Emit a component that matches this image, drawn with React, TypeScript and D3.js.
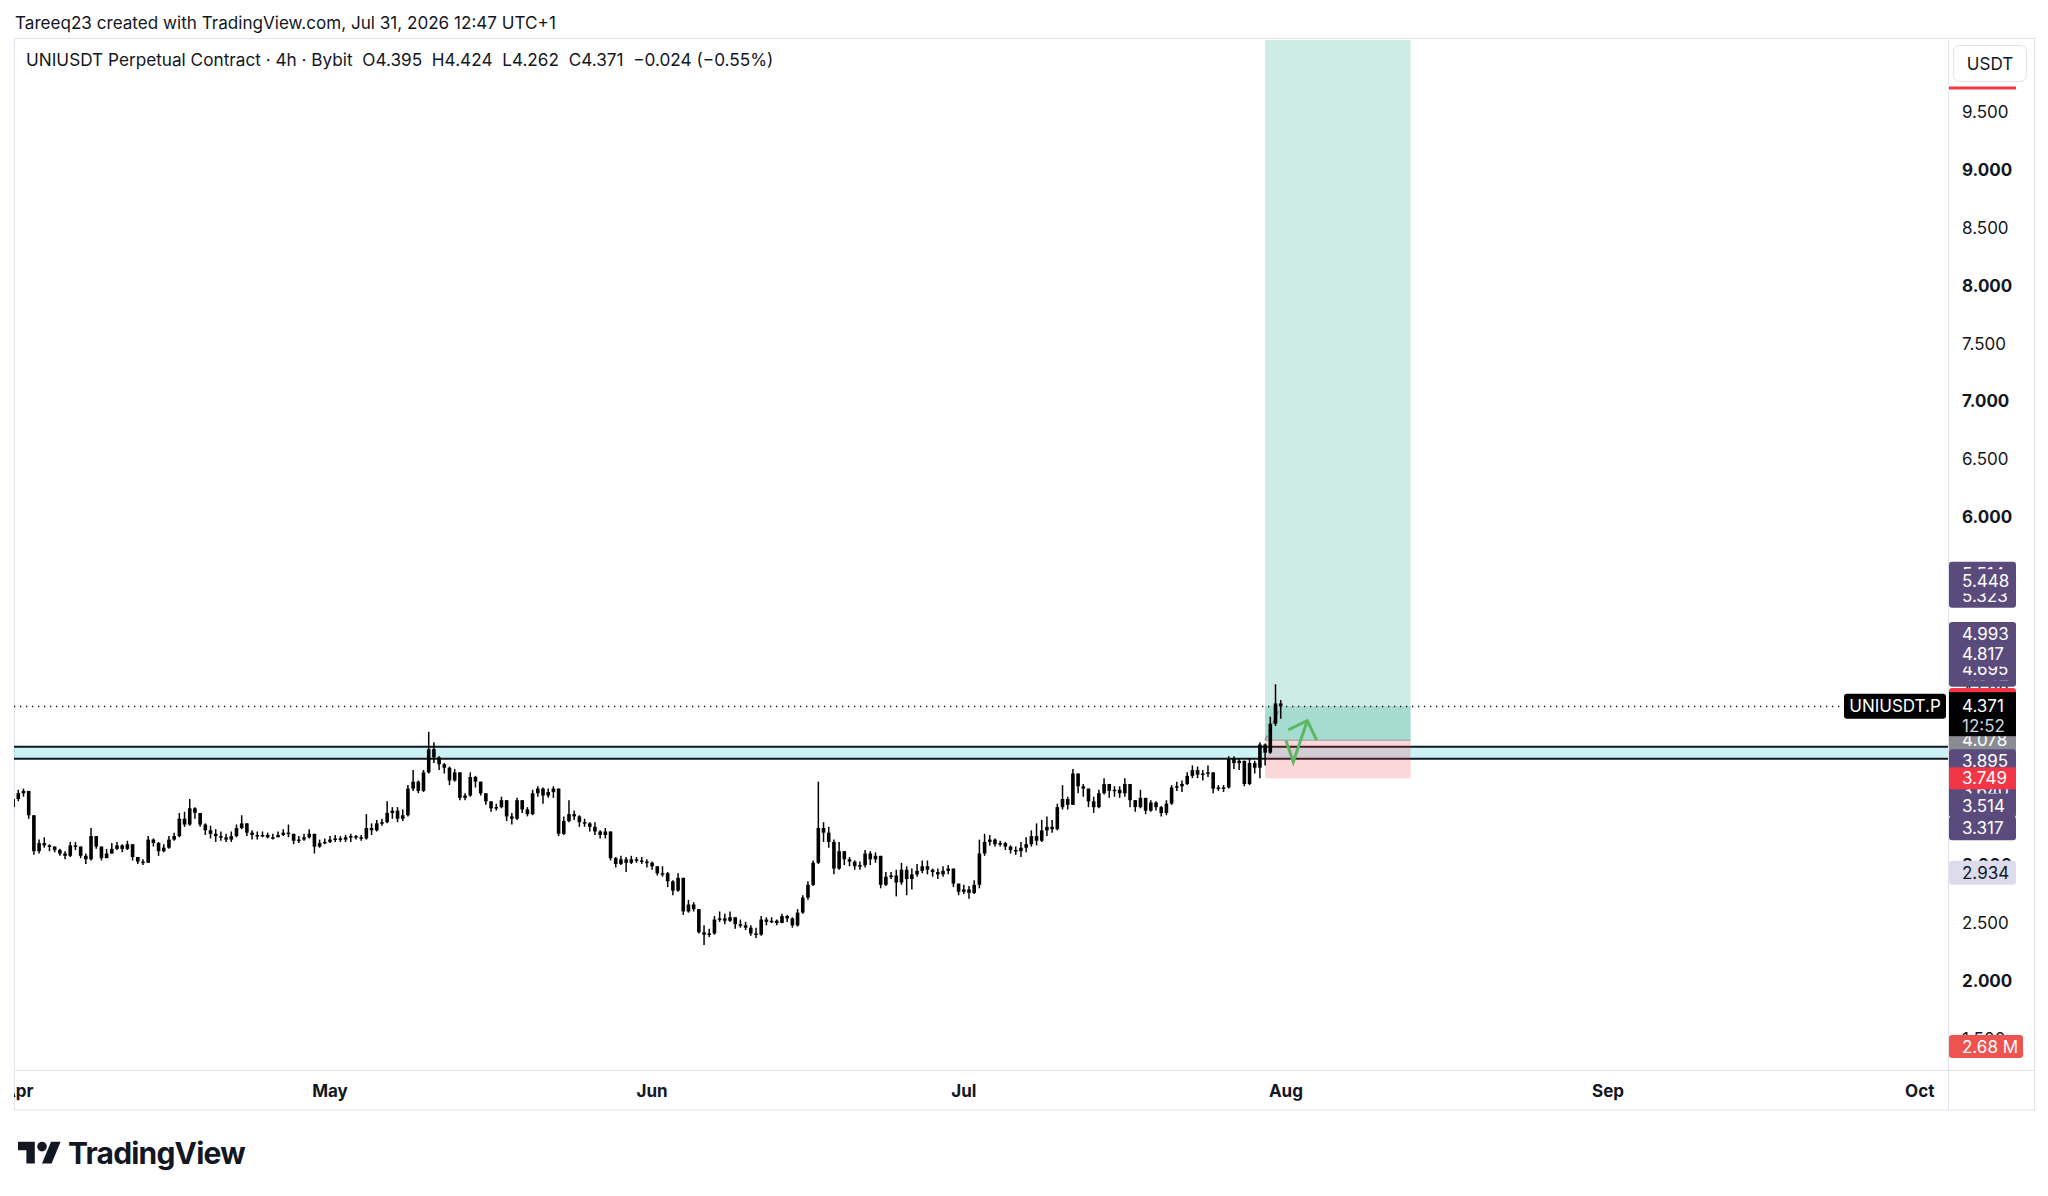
import React from 'react';
import * as d3 from 'd3';

// 12h candles, starting 2026-03-31 12:00 UTC
const candleStart = '2026-03-31T12:00:00Z';
const candleStepHours = 12;
const firstOpen = 3.5;
const closes = [
  3.57, 3.62, 3.64, 3.43, 3.12, 3.19, 3.17, 3.16, 3.13, 3.10, 3.08, 3.17, 3.16, 3.08, 3.05, 3.25,
  3.16, 3.06, 3.10, 3.14, 3.17, 3.14, 3.18, 3.07, 3.03, 3.02, 3.22, 3.19, 3.12, 3.15, 3.22, 3.25,
  3.40, 3.35, 3.49, 3.45, 3.35, 3.30, 3.27, 3.25, 3.24, 3.22, 3.25, 3.32, 3.36, 3.28, 3.26, 3.25,
  3.26, 3.24, 3.24, 3.26, 3.28, 3.27, 3.21, 3.22, 3.24, 3.27, 3.16, 3.19, 3.20, 3.22, 3.23, 3.22,
  3.24, 3.25, 3.24, 3.23, 3.32, 3.30, 3.36, 3.37, 3.45, 3.47, 3.40, 3.43, 3.66, 3.72, 3.64, 3.80,
  4.00, 3.93, 3.87, 3.84, 3.73, 3.80, 3.58, 3.60, 3.76, 3.72, 3.62, 3.55, 3.49, 3.50, 3.56, 3.42,
  3.40, 3.56, 3.48, 3.44, 3.62, 3.66, 3.60, 3.63, 3.66, 3.27, 3.38, 3.44, 3.42, 3.37, 3.36, 3.33,
  3.29, 3.26, 3.29, 3.06, 3.01, 3.05, 3.02, 3.05, 3.04, 3.03, 3.02, 2.99, 2.93, 2.93, 2.86, 2.78,
  2.89, 2.60, 2.66, 2.62, 2.42, 2.40, 2.41, 2.53, 2.54, 2.52, 2.55, 2.49, 2.48, 2.46, 2.41, 2.40,
  2.53, 2.51, 2.52, 2.50, 2.56, 2.54, 2.48, 2.59, 2.72, 2.83, 3.02, 3.32, 3.28, 3.20, 2.97, 3.12,
  3.05, 3.03, 2.99, 3.00, 3.10, 3.05, 3.08, 2.83, 2.90, 2.91, 2.85, 2.96, 2.88, 2.92, 2.95, 2.99,
  2.96, 2.94, 2.92, 2.95, 2.97, 2.84, 2.77, 2.79, 2.76, 2.83, 3.10, 3.20, 3.22, 3.18, 3.19, 3.16,
  3.13, 3.12, 3.15, 3.18, 3.25, 3.21, 3.30, 3.33, 3.31, 3.50, 3.57, 3.52, 3.79, 3.68, 3.66, 3.55,
  3.50, 3.62, 3.70, 3.64, 3.65, 3.62, 3.70, 3.56, 3.50, 3.58, 3.47, 3.54, 3.50, 3.45, 3.53, 3.67,
  3.68, 3.70, 3.77, 3.82, 3.78, 3.79, 3.80, 3.66, 3.67, 3.67, 3.92, 3.88, 3.90, 3.70, 3.88, 3.84,
  4.04, 3.97, 4.22, 4.395, 4.371,
];
const highs = [
  3.59, 3.65, 3.66, 3.62, 3.42, 3.22, 3.24, 3.18, 3.16, 3.14, 3.12, 3.20, 3.20, 3.14, 3.10, 3.32,
  3.25, 3.14, 3.14, 3.19, 3.20, 3.18, 3.21, 3.13, 3.07, 3.05, 3.25, 3.23, 3.20, 3.18, 3.25, 3.28,
  3.45, 3.46, 3.57, 3.50, 3.45, 3.36, 3.34, 3.31, 3.29, 3.27, 3.29, 3.35, 3.43, 3.36, 3.30, 3.29,
  3.29, 3.28, 3.27, 3.29, 3.31, 3.35, 3.27, 3.25, 3.27, 3.31, 3.27, 3.22, 3.23, 3.25, 3.26, 3.25,
  3.26, 3.27, 3.26, 3.26, 3.44, 3.36, 3.39, 3.40, 3.55, 3.50, 3.50, 3.48, 3.69, 3.82, 3.73, 3.82,
  4.15, 4.06, 3.94, 3.88, 3.85, 3.83, 3.80, 3.62, 3.80, 3.77, 3.72, 3.62, 3.55, 3.53, 3.59, 3.56,
  3.45, 3.58, 3.56, 3.50, 3.65, 3.68, 3.67, 3.66, 3.68, 3.66, 3.42, 3.56, 3.47, 3.43, 3.40, 3.37,
  3.37, 3.30, 3.32, 3.29, 3.07, 3.08, 3.07, 3.08, 3.07, 3.07, 3.05, 3.03, 2.99, 2.99, 2.94, 2.87,
  2.93, 2.89, 2.70, 2.68, 2.62, 2.48, 2.45, 2.56, 2.60, 2.58, 2.60, 2.55, 2.53, 2.51, 2.48, 2.46,
  2.56, 2.55, 2.55, 2.53, 2.58, 2.57, 2.55, 2.62, 2.74, 2.86, 3.04, 3.72, 3.37, 3.33, 3.22, 3.20,
  3.12, 3.07, 3.04, 3.03, 3.13, 3.12, 3.11, 3.08, 2.94, 2.94, 2.96, 3.02, 2.99, 2.97, 3.01, 3.04,
  3.04, 2.97, 2.97, 2.99, 3.00, 2.97, 2.84, 2.83, 2.82, 2.87, 3.22, 3.27, 3.26, 3.23, 3.21, 3.20,
  3.17, 3.16, 3.20, 3.24, 3.30, 3.36, 3.39, 3.42, 3.39, 3.53, 3.69, 3.59, 3.83, 3.79, 3.70, 3.66,
  3.59, 3.65, 3.75, 3.70, 3.68, 3.68, 3.75, 3.70, 3.56, 3.65, 3.58, 3.56, 3.55, 3.51, 3.56, 3.69,
  3.72, 3.73, 3.80, 3.86, 3.85, 3.82, 3.86, 3.80, 3.69, 3.69, 3.94, 3.94, 3.92, 3.90, 3.92, 3.90,
  4.06, 4.05, 4.28, 4.56, 4.424,
];
const lows = [
  3.49, 3.55, 3.59, 3.40, 3.09, 3.10, 3.15, 3.12, 3.11, 3.08, 3.05, 3.07, 3.13, 3.06, 3.01, 3.04,
  3.14, 3.04, 3.06, 3.10, 3.13, 3.11, 3.13, 3.04, 3.01, 3.00, 3.02, 3.16, 3.08, 3.11, 3.14, 3.21,
  3.24, 3.33, 3.34, 3.40, 3.33, 3.26, 3.23, 3.20, 3.21, 3.20, 3.20, 3.24, 3.31, 3.25, 3.22, 3.22,
  3.24, 3.23, 3.22, 3.24, 3.25, 3.24, 3.18, 3.19, 3.21, 3.23, 3.10, 3.15, 3.18, 3.19, 3.20, 3.20,
  3.20, 3.20, 3.22, 3.21, 3.22, 3.26, 3.29, 3.34, 3.36, 3.40, 3.37, 3.38, 3.42, 3.64, 3.62, 3.63,
  3.79, 3.88, 3.82, 3.79, 3.69, 3.72, 3.56, 3.56, 3.59, 3.67, 3.60, 3.52, 3.46, 3.47, 3.49, 3.38,
  3.35, 3.39, 3.45, 3.42, 3.43, 3.59, 3.53, 3.58, 3.58, 3.25, 3.26, 3.37, 3.39, 3.33, 3.33, 3.29,
  3.26, 3.23, 3.23, 3.04, 2.98, 3.00, 2.94, 3.01, 3.02, 3.01, 2.98, 2.96, 2.91, 2.90, 2.81, 2.74,
  2.77, 2.57, 2.59, 2.60, 2.41, 2.31, 2.38, 2.40, 2.51, 2.49, 2.51, 2.45, 2.46, 2.44, 2.39, 2.37,
  2.39, 2.48, 2.50, 2.48, 2.50, 2.51, 2.46, 2.47, 2.58, 2.70, 2.82, 3.01, 3.20, 3.15, 2.92, 2.96,
  3.00, 2.99, 2.96, 2.96, 2.98, 3.00, 3.02, 2.80, 2.82, 2.88, 2.73, 2.83, 2.74, 2.79, 2.90, 2.93,
  2.92, 2.90, 2.88, 2.90, 2.92, 2.81, 2.74, 2.75, 2.71, 2.75, 2.80, 3.08, 3.17, 3.16, 3.16, 3.13,
  3.10, 3.09, 3.07, 3.11, 3.16, 3.17, 3.20, 3.25, 3.28, 3.30, 3.48, 3.48, 3.52, 3.62, 3.59, 3.50,
  3.45, 3.49, 3.61, 3.58, 3.59, 3.58, 3.59, 3.50, 3.46, 3.49, 3.44, 3.46, 3.47, 3.42, 3.43, 3.52,
  3.64, 3.63, 3.69, 3.75, 3.75, 3.73, 3.76, 3.62, 3.64, 3.63, 3.66, 3.83, 3.82, 3.68, 3.69, 3.79,
  3.75, 3.86, 3.96, 4.20, 4.262,
];

const monthTicks = ['2026-04-01', '2026-05-01', '2026-06-01', '2026-07-01', '2026-08-01', '2026-09-01', '2026-10-01'];
const priceTicks = [1.5, 2, 2.5, 3, 3.5, 4, 4.5, 5, 5.5, 6, 6.5, 7, 7.5, 8, 8.5, 9, 9.5];

const lastPrice = 4.371;
const lastHigh = 4.424;
const countdown = '12:52';
const symbolLabel = 'UNIUSDT.P';
const volumeLabel = '2.68 M';

// long position tool
const positionStart = '2026-07-30T00:00:00Z';
const positionEnd = '2026-08-13T00:00:00Z';
const entryPrice = 4.078;
const stopPrice = 3.749;
const targetPrice = 10.6;

// support zone rectangle
const zoneTop = 4.021;
const zoneBottom = 3.918;

// hand-drawn arrow
const arrowLine: [string, number][] = [
  ['2026-08-01T00:00:00Z', 4.078],
  ['2026-08-01T17:00:00Z', 3.891],
  ['2026-08-03T01:30:00Z', 4.246],
];
const arrowHead: [string, number][] = [
  ['2026-08-01T05:30:00Z', 4.166],
  ['2026-08-03T01:30:00Z', 4.246],
  ['2026-08-03T23:00:00Z', 4.078],
];

// price labels stacked on the right axis (drawing order = stacking order)
const PURPLE = '#5b4b7d';
const axisBadges = [
  { value: 2.934, fill: '#dcdcec', color: '#131722' },
  { value: 4.078, fill: '#8a8c94', color: '#ffffff' },
  { value: 3.317, fill: PURPLE, color: '#ffffff' },
  { value: 3.64, fill: PURPLE, color: '#ffffff' },
  { value: 3.514, fill: PURPLE, color: '#ffffff' },
  { value: 3.895, fill: PURPLE, color: '#ffffff' },
  { value: 4.642, fill: PURPLE, color: '#ffffff' },
  { value: 4.695, fill: PURPLE, color: '#ffffff' },
  { value: 4.993, fill: PURPLE, color: '#ffffff' },
  { value: 4.817, fill: PURPLE, color: '#ffffff' },
  { value: 5.514, fill: PURPLE, color: '#ffffff' },
  { value: 5.323, fill: PURPLE, color: '#ffffff' },
  { value: 5.448, fill: PURPLE, color: '#ffffff' },
  { value: lastHigh, fill: '#f23645', color: '#ffffff' },
];

const FONT = "Inter, 'Noto Sans', 'DejaVu Sans', sans-serif";
const TEXT = '#131722';
const BORDER = '#e0e3eb';

const plot = { left: 14, right: 1948, top: 40, bottom: 1070 };
const panelRight = 2034;
const timeAxisBottom = 1110;

export default function App() {
  const x = d3
    .scaleUtc()
    .domain([new Date('2026-04-01T00:00:00Z'), new Date('2026-10-01T00:00:00Z')])
    .range([18.3, 1919.7]);
  const y = d3.scaleLinear().domain([1.2322, 10.1186]).range([plot.bottom, plot.top]);

  const t0 = new Date(candleStart).getTime();
  const candles = closes.map((c, i) => {
    const o = i === 0 ? firstOpen : closes[i - 1];
    return {
      t: new Date(t0 + i * candleStepHours * 3600e3),
      o,
      c,
      h: Math.max(highs[i], o, c),
      l: Math.min(lows[i], o, c),
    };
  });
  const lastCandle = candles[candles.length - 1];

  const pos0 = x(new Date(positionStart));
  const pos1 = x(new Date(positionEnd));

  const pt = (d: [string, number]) => [x(new Date(d[0])), y(d[1])] as [number, number];
  const poly = d3.line();

  const badgeX = 1949;
  const badgeW = 67;
  const badgeH = 24;

  return (
    <div style={{ position: 'absolute', left: 0, top: 0 }}>
      <svg width={2048} height={1196} style={{ display: 'block', background: '#fff' }} fontFamily={FONT}>
        <defs>
          <clipPath id="plotClip">
            <rect x={plot.left} y={plot.top} width={plot.right - plot.left} height={plot.bottom - plot.top} />
          </clipPath>
          <clipPath id="timeClip">
            <rect x={plot.left} y={plot.bottom} width={plot.right - plot.left} height={timeAxisBottom - plot.bottom} />
          </clipPath>
        </defs>

        <text x={15} y={29} fontSize={17.1} fill={TEXT}>
          Tareeq23 created with TradingView.com, Jul 31, 2026 12:47 UTC+1
        </text>

        {/* frame */}
        <rect
          x={plot.left + 0.5}
          y={plot.top - 1.5}
          width={panelRight - plot.left}
          height={timeAxisBottom - plot.top + 1.5}
          fill="none"
          stroke={BORDER}
        />
        <line x1={plot.right + 0.5} x2={plot.right + 0.5} y1={plot.top} y2={timeAxisBottom} stroke={BORDER} />
        <line x1={plot.left} x2={panelRight} y1={plot.bottom + 0.5} y2={plot.bottom + 0.5} stroke={BORDER} />

        <g clipPath="url(#plotClip)">
          {/* support zone */}
          <rect
            x={plot.left}
            y={y(zoneTop)}
            width={plot.right - plot.left}
            height={y(zoneBottom) - y(zoneTop)}
            fill="rgba(0,188,212,0.2)"
          />
          <line x1={plot.left} x2={plot.right} y1={y(zoneTop)} y2={y(zoneTop)} stroke={TEXT} strokeWidth={2} />
          <line x1={plot.left} x2={plot.right} y1={y(zoneBottom)} y2={y(zoneBottom)} stroke={TEXT} strokeWidth={2} />

          {/* long position */}
          <rect x={pos0} y={y(targetPrice)} width={pos1 - pos0} height={y(entryPrice) - y(targetPrice)} fill="rgba(8,153,129,0.2)" />
          <rect x={pos0} y={y(entryPrice)} width={pos1 - pos0} height={y(stopPrice) - y(entryPrice)} fill="rgba(242,54,69,0.2)" />
          <rect x={pos0} y={y(lastPrice)} width={pos1 - pos0} height={y(entryPrice) - y(lastPrice)} fill="rgba(8,153,129,0.2)" />
          <line x1={pos0} x2={pos1} y1={y(entryPrice)} y2={y(entryPrice)} stroke="#9598a1" strokeWidth={1} />
          <line
            x1={pos0}
            y1={y(entryPrice)}
            x2={x(lastCandle.t)}
            y2={y(lastPrice)}
            stroke="#8a8c94"
            strokeWidth={1.5}
            strokeDasharray="5 4"
          />

          {/* current price line */}
          <line
            x1={plot.left}
            x2={1844}
            y1={Math.round(y(lastPrice)) + 0.5}
            y2={Math.round(y(lastPrice)) + 0.5}
            stroke={TEXT}
            strokeWidth={1.3}
            strokeDasharray="1.3 4.7"
          />

          {/* candles */}
          <g fill="#000" stroke="#000">
            {candles.map((d, i) => {
              const cx = x(d.t);
              const top = y(Math.max(d.o, d.c));
              const bot = y(Math.min(d.o, d.c));
              return (
                <g key={i}>
                  <line x1={cx} x2={cx} y1={y(d.h)} y2={y(d.l)} strokeWidth={1.5} />
                  <rect x={cx - 1.8} y={top} width={3.6} height={Math.max(1.5, bot - top)} stroke="none" />
                </g>
              );
            })}
          </g>

          {/* arrow */}
          <g fill="none" stroke="#5cb860" strokeWidth={3} strokeLinejoin="miter">
            <path d={poly(arrowLine.map(pt)) ?? ''} />
            <path d={poly(arrowHead.map(pt)) ?? ''} />
          </g>
        </g>

        {/* symbol label */}
        <rect x={1844} y={y(lastPrice) - 12.5} width={102} height={25} rx={3} fill="#000" />
        <text x={1895} y={y(lastPrice)} fontSize={17} fill="#fff" textAnchor="middle" dominantBaseline="central">
          {symbolLabel}
        </text>

        {/* title */}
        <text x={26} y={66} fontSize={17.2} fill={TEXT} style={{ whiteSpace: 'pre' }}>
          {'UNIUSDT Perpetual Contract · 4h · Bybit  O4.395  H4.424  L4.262  C4.371  −0.024 (−0.55%)'}
        </text>

        {/* price axis */}
        {priceTicks.map(v => (
          <text
            key={v}
            x={1962}
            y={y(v)}
            fontSize={17}
            fontWeight={Number.isInteger(v) ? 700 : 400}
            fill={TEXT}
            dominantBaseline="central"
          >
            {v.toFixed(3)}
          </text>
        ))}

        {axisBadges.map((b, i) => (
          <g key={i}>
            <rect x={badgeX} y={y(b.value) - badgeH / 2} width={badgeW} height={badgeH} rx={3} fill={b.fill} />
            <text x={1962} y={y(b.value)} fontSize={17} fill={b.color} dominantBaseline="central">
              {b.value.toFixed(3)}
            </text>
          </g>
        ))}

        {/* last price with countdown */}
        <rect x={badgeX} y={y(lastPrice) - 14} width={badgeW} height={44} fill="#000" />
        <text x={1962} y={y(lastPrice)} fontSize={17} fill="#fff" dominantBaseline="central">
          {lastPrice.toFixed(3)}
        </text>
        <text x={1962} y={y(lastPrice) + 20} fontSize={17} fill="#d1d4dc" dominantBaseline="central">
          {countdown}
        </text>

        {/* stop label on top */}
        <rect x={badgeX} y={y(stopPrice) - 11} width={badgeW} height={22} fill="#f23645" />
        <text x={1962} y={y(stopPrice)} fontSize={17} fill="#fff" dominantBaseline="central">
          {stopPrice.toFixed(3)}
        </text>

        {/* volume label */}
        <rect x={badgeX} y={plot.bottom - 35} width={74} height={23} rx={3} fill="#ef5350" />
        <text x={1962} y={plot.bottom - 23.5} fontSize={17} fill="#fff" dominantBaseline="central">
          {volumeLabel}
        </text>

        {/* currency button */}
        <rect x={1953.5} y={45.5} width={73} height={36} rx={6} fill="#fff" stroke={BORDER} />
        <text x={1990} y={64} fontSize={17} fill={TEXT} textAnchor="middle" dominantBaseline="central">
          USDT
        </text>
        <line x1={1949} x2={2016} y1={88} y2={88} stroke="#f23645" strokeWidth={3} />

        {/* time axis */}
        <g clipPath="url(#timeClip)">
          {monthTicks.map(m => {
            const d = new Date(m + 'T00:00:00Z');
            return (
              <text
                key={m}
                x={x(d)}
                y={1091}
                fontSize={17}
                fontWeight={700}
                fill={TEXT}
                textAnchor="middle"
                dominantBaseline="central"
              >
                {d3.utcFormat('%b')(d)}
              </text>
            );
          })}
        </g>

        {/* TradingView logo */}
        <g transform="translate(18,1137) scale(1.2)" fill={TEXT}>
          <path d="M14 22H7V11H0V4h14v18z" />
          <path d="M28 22h-8l7.5-18h8L28 22z" />
          <circle cx={20} cy={8} r={4} />
        </g>
        <text x={68} y={1164} fontSize={30} fontWeight={700} fill={TEXT} letterSpacing={-0.8}>
          TradingView
        </text>
      </svg>
    </div>
  );
}
